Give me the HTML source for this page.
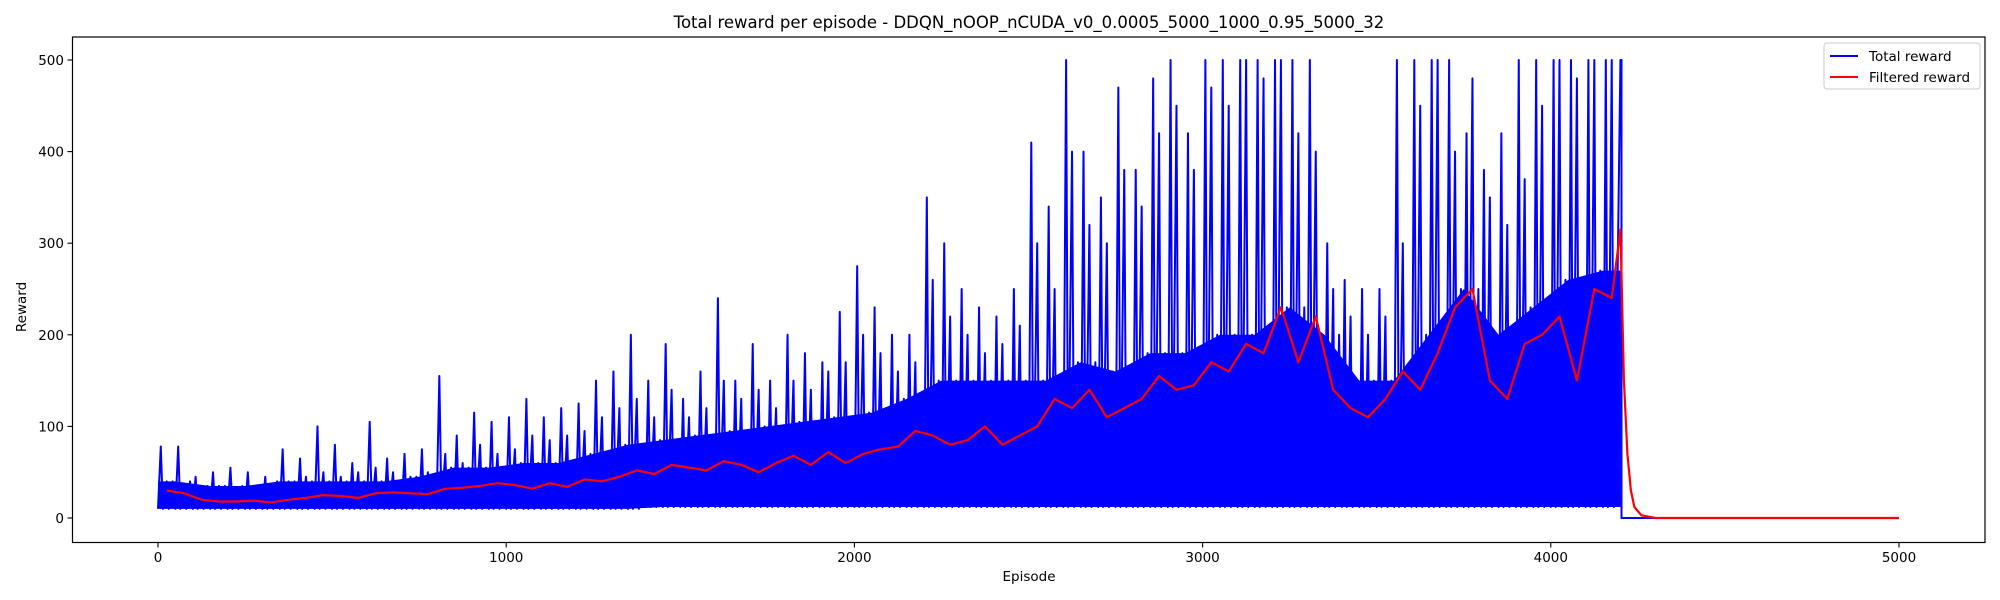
<!DOCTYPE html>
<html><head><meta charset="utf-8"><style>
html,body{margin:0;padding:0;background:#fff;}
svg{display:block;font-family:"DejaVu Sans","Liberation Sans",sans-serif;}
</style></head><body>
<svg id="chart" width="2000" height="600" viewBox="0 0 2000 600">
<rect x="0" y="0" width="2000" height="600" fill="#fff"/>
<text x="1029" y="28" font-size="16.5" text-anchor="middle" fill="#000">Total reward per episode - DDQN_nOOP_nCUDA_v0_0.0005_5000_1000_0.95_5000_32</text>
<g id="plot"></g>
<g id="axes"></g>
<text x="1029" y="581" font-size="13.5" text-anchor="middle">Episode</text>
<text x="0" y="0" font-size="13.5" text-anchor="middle" transform="translate(26,307) rotate(-90)">Reward</text>
<g>
<rect x="1824" y="43" width="156" height="46" fill="#fff" fill-opacity="0.8" stroke="#ccc" rx="3"/>
<line x1="1830" y1="56" x2="1858" y2="56" stroke="#0000ff" stroke-width="2"/>
<text x="1869" y="61" font-size="13.5">Total reward</text>
<line x1="1830" y1="77" x2="1858" y2="77" stroke="#ff0000" stroke-width="2"/>
<text x="1869" y="82" font-size="13.5">Filtered reward</text>
</g>
</svg>
<script>
// ---- data ----
const binSize = 50;
const peakA = [78,78,45,50,55,50,45,75,65,100,80,60,105,65,70,75,155,90,115,105,110,130,110,120,125,150,160,200,150,190,130,160,240,150,190,150,200,180,170,225,275,230,200,200,350,300,250,230,220,250,410,340,500,400,350,470,380,480,500,420,500,500,500,500,500,500,500,300,260,250,250,500,500,500,500,420,380,420,500,500,500,500,500,500];
const peakB = [40,35,30,35,30,30,35,40,45,50,45,50,55,50,45,50,70,60,80,70,75,90,85,90,95,110,120,130,110,140,110,120,150,130,140,120,150,140,160,170,200,180,160,170,260,220,200,180,190,210,300,250,400,320,300,380,340,420,450,380,470,450,500,480,500,420,400,250,220,200,220,300,450,500,400,480,350,320,370,450,500,480,500,500];
const denseBin = 100;
const denseTop = [40,35,35,40,40,40,40,45,55,55,60,60,70,80,85,90,95,100,105,110,115,130,150,150,150,150,170,160,180,180,200,200,230,200,150,150,200,250,200,230,260,270];
const lowVals = [10,10,10,10,10,10,10,10,10,10,10,10,10,10,12,12,12,12,12,12,12,12,12,12,12,12,12,12,12,12,12,12,12,12,12,12,12,12,12,12,12,12];
const filtVals = [30,27,20,18,18,19,17,20,22,25,24,22,27,28,27,26,32,33,35,38,36,32,38,34,42,40,45,52,48,58,55,52,62,58,50,60,68,58,72,60,70,75,78,95,90,80,85,100,80,90,100,130,120,140,110,120,130,155,140,145,170,160,190,180,230,170,220,140,120,110,130,160,140,180,230,250,150,130,190,200,220,150,250,240];
const tailEps = [4200,4210,4220,4230,4240,4260,4300,5000];
const tailVals = [315,150,70,30,12,3,0,0];
const totalEndEps = [4203,4203,5000];
const totalEndVals = [500,0,0];
const xTicks = [0,1000,2000,3000,4000,5000];
const yTicks = [0,100,200,300,400,500];

// ---- axes ----
const X = e => 158 + 0.3482 * e;
const Y = v => 518 - 0.916 * v;
const NS = "http://www.w3.org/2000/svg";
const plot = document.getElementById('plot');
const axes = document.getElementById('axes');
function mk(tag, attrs, parent){const el=document.createElementNS(NS,tag);for(const k in attrs)el.setAttribute(k,attrs[k]);parent.appendChild(el);return el;}

// dense band (smooth through bin centers)
const bandTop=[], bandBot=[];
bandTop.push(X(0)+','+Y(denseTop[0]));
denseTop.forEach((v,i)=>bandTop.push(X(i*denseBin+50)+','+Y(v)));
bandTop.push(X(4200)+','+Y(denseTop[denseTop.length-1]));
bandBot.push(X(0)+','+Y(lowVals[0]));
lowVals.forEach((v,i)=>bandBot.push(X(i*denseBin+50)+','+Y(v)));
bandBot.push(X(4200)+','+Y(lowVals[lowVals.length-1]));
const band = mk('polygon',{points: bandTop.concat(bandBot.reverse()).join(' '), fill:'#0000ff'}, plot);



// spikes zigzag
const pts=[];
peakA.forEach((v,i)=>{
  const b=i*binSize;
  const di=Math.floor(b/denseBin);
  const lo = lowVals[di];
  pts.push(X(b)+','+Y(lo));
  pts.push(X(b+8)+','+Y(v));
  pts.push(X(b+14)+','+Y(lo));
  pts.push(X(b+25)+','+Y(peakB[i]));
  pts.push(X(b+31)+','+Y(lo));
  pts.push(X(b+42)+','+Y(denseTop[di]));
});
pts.push(X(4200)+','+Y(peakA[peakA.length-1]));
totalEndEps.forEach((e,i)=>pts.push(X(e)+','+Y(totalEndVals[i])));
const spikes = mk('polyline',{points:pts.join(' '), fill:'none', stroke:'#0000ff', 'stroke-width':2, 'stroke-linejoin':'round'}, plot);



// filtered
const fp=[];
filtVals.forEach((v,i)=>fp.push(X(i*binSize+25)+','+Y(v)));
tailEps.forEach((e,i)=>fp.push(X(e)+','+Y(tailVals[i])));
const filt = mk('polyline',{points:fp.join(' '), fill:'none', stroke:'#ff0000', 'stroke-width':2.2, 'stroke-linejoin':'round'}, plot);



// frame
const frame = mk('rect',{x:72.5,y:37,width:1912.5,height:505.5,fill:'none',stroke:'#000','stroke-width':1.2}, axes);


xTicks.forEach(t=>{
  const l = mk('line',{x1:X(t),x2:X(t),y1:542.5,y2:547.5,stroke:'#000','stroke-width':1.1}, axes);
  
  
  const tx = mk('text',{x:X(t),y:562,'font-size':13.5,'text-anchor':'middle'}, axes);
  tx.textContent = t;
  
  
});
yTicks.forEach(t=>{
  const l = mk('line',{x1:67.5,x2:72.5,y1:Y(t),y2:Y(t),stroke:'#000','stroke-width':1.1}, axes);
  
  
  const tx = mk('text',{x:64,y:Y(t)+5,'font-size':13.5,'text-anchor':'end'}, axes);
  tx.textContent = t;
  
  
});
</script>
</body></html>
